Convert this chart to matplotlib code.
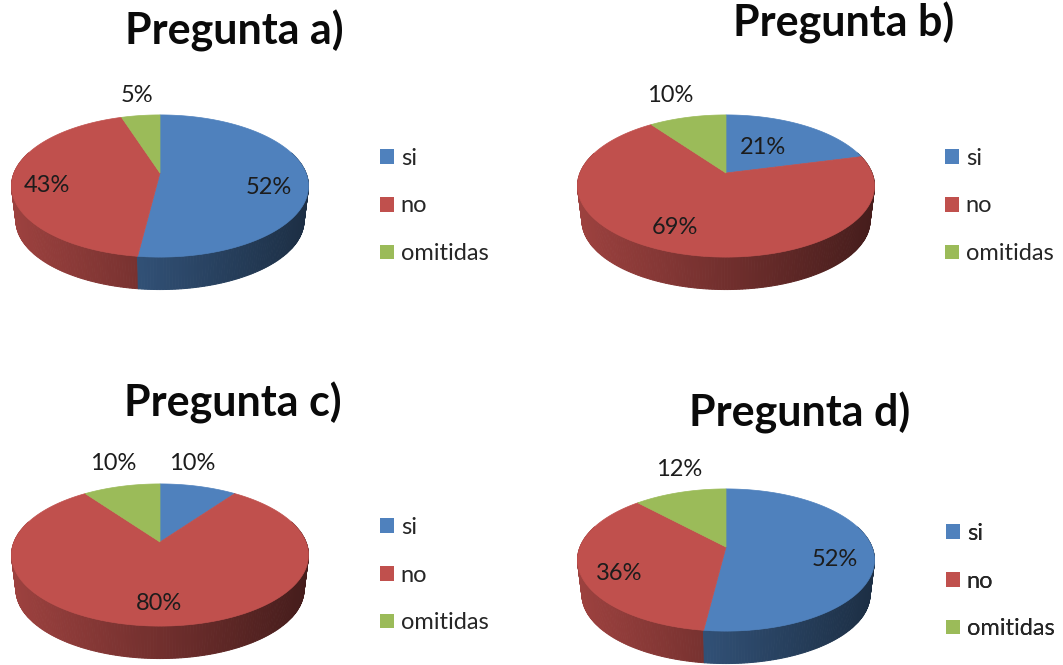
import matplotlib
matplotlib.use("Agg")
import matplotlib.pyplot as plt
from matplotlib.patches import Patch
import numpy as np

plt.rcParams["font.family"] = ["Lato", "DejaVu Sans"]

titles = ["Pregunta a)", "Pregunta b)", "Pregunta c)", "Pregunta d)"]
categories = ["si", "no", "omitidas"]
si_values = [52, 21, 10, 52]
no_values = [43, 69, 80, 36]
omitidas_values = [5, 10, 10, 12]
colors = ["#4F81BD", "#C0504D", "#9BBB59"]

# panel layout in pixels: apex of the pie, title centre, legend left edge and first row
apex = [(160, 173), (726, 173), (160, 542), (726, 547)]
title_pos = [(234, 31), (844, 23), (233, 403), (800, 413)]
legend_pos = [(380, 158), (945, 158), (380, 527), (946, 533)]
label_pos = [
    [(269, 187), (47, 185), (137, 95)],
    [(763, 147), (675, 227), (670, 95)],
    [(192, 463), (159, 603), (113, 463)],
    [(835, 560), (619, 574), (679, 470)],
]

# tilted disc, front edge closer to the viewer
K = 0.183
RX = 146
RY = 68.7
DEPTH = 35
BOTTOM_SCALE = 0.97


def project(theta, cx, cy, r=1.0, scale=1.0):
    u = r * np.sin(theta)
    v = r * np.cos(theta)
    w = 1 + K * v
    return cx + scale * RX * u / w, cy - scale * RY * v / w


def shade(color, x, cx):
    # side wall gets darker from left to right
    t = np.clip((x - (cx - 149)) / 298, 0, 1)
    rgb = np.array(matplotlib.colors.to_rgb(color))
    return tuple(rgb * (0.82 - 0.46 * t))


def draw_pie(ax, values, cx, cy):
    edges = np.cumsum([0] + list(values)) / sum(values) * 2 * np.pi

    # side wall first, back to front
    segments = []
    for i, color in enumerate(colors):
        th = np.arange(edges[i], edges[i + 1], np.radians(1.0))
        th = np.append(th, edges[i + 1])
        for a, b in zip(th[:-1], th[1:]):
            if np.cos(a) < 0.3 or np.cos(b) < 0.3:
                segments.append((a, b, color))
    segments.sort(key=lambda s: -np.cos(s[0]))
    for a, b, color in segments:
        x0, y0 = project(a, cx, cy)
        x1, y1 = project(b, cx, cy)
        x2, y2 = project(b, cx, cy + DEPTH, scale=BOTTOM_SCALE)
        x3, y3 = project(a, cx, cy + DEPTH, scale=BOTTOM_SCALE)
        c = shade(color, (x0 + x1) / 2, cx)
        ax.fill([x0, x1, x2, x3], [y0, y1, y2, y3], color=c, lw=0.7)

    # top face
    for i, color in enumerate(colors):
        th = np.linspace(edges[i], edges[i + 1], 200)
        xs, ys = project(th, cx, cy)
        ax.fill(np.r_[cx, xs], np.r_[cy, ys], color=color, lw=0.5)


fig = plt.figure(figsize=(10.63, 6.65), dpi=100)
ax = fig.add_axes([0, 0, 1, 1])
ax.set_xlim(0, 1063)
ax.set_ylim(665, 0)
ax.axis("off")

handles = [Patch(facecolor=c, edgecolor="none") for c in colors]

for n in range(4):
    values = [si_values[n], no_values[n], omitidas_values[n]]
    draw_pie(ax, values, *apex[n])

    ax.text(*title_pos[n], titles[n], fontsize=31, fontweight="bold",
            color="#0a0a0a", ha="center", va="center")

    for value, pos in zip(values, label_pos[n]):
        ax.text(*pos, f"{value}%", fontsize=17, color="#1c1c1c",
                ha="center", va="center")

    leg = ax.legend(handles, categories, loc="center left",
                    bbox_to_anchor=(legend_pos[n][0], legend_pos[n][1] + 48),
                    bbox_transform=ax.transData, frameon=False, fontsize=17,
                    labelspacing=1.13, handlelength=0.58, handleheight=0.58,
                    handletextpad=0.3, borderpad=0, borderaxespad=0,
                    labelcolor="#262626")
    ax.add_artist(leg)

fig.savefig("out.png", dpi=100)
